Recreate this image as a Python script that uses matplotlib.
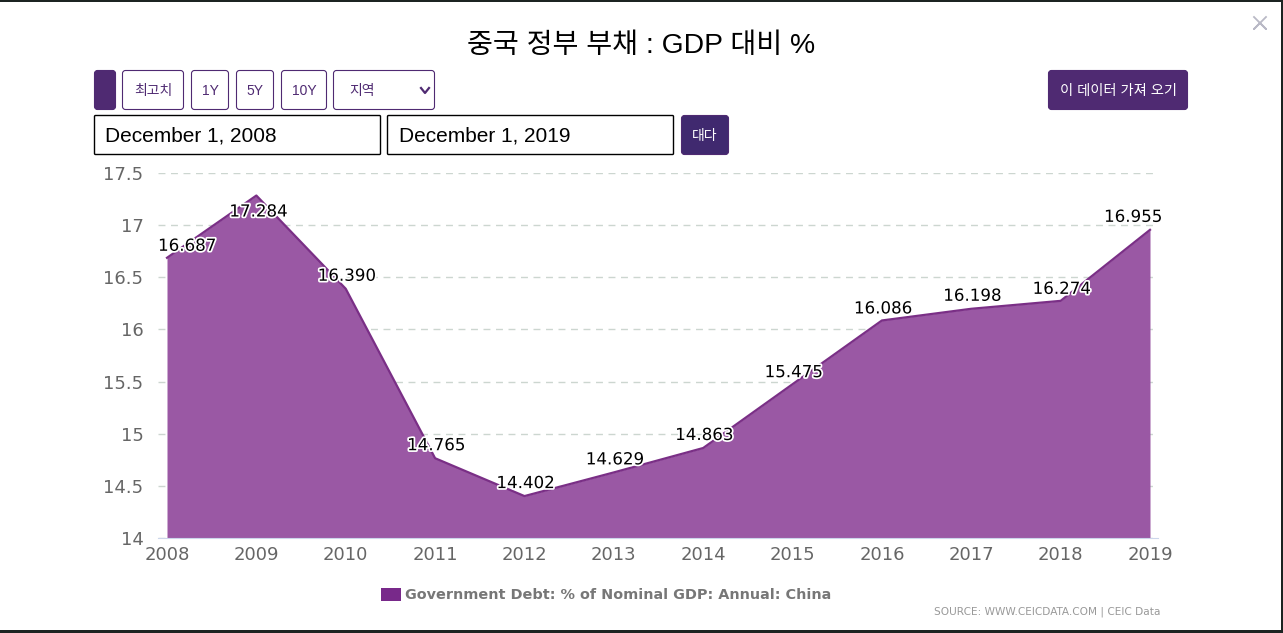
import matplotlib
matplotlib.use('Agg')
import matplotlib.pyplot as plt
import matplotlib.patheffects as pe
from matplotlib.patches import FancyBboxPatch, Rectangle

W, H = 1283, 633

years = [2008, 2009, 2010, 2011, 2012, 2013, 2014, 2015, 2016, 2017, 2018, 2019]
debt = [16.687, 17.284, 16.390, 14.765, 14.402, 14.629, 14.863, 15.475, 16.086, 16.198, 16.274, 16.955]
y_ticks = [14, 14.5, 15, 15.5, 16, 16.5, 17, 17.5]
y_tick_labels = ['14', '14.5', '15', '15.5', '16', '16.5', '17', '17.5']

title = '중국 정부 부채 : GDP 대비 %'
series_name = 'Government Debt: % of Nominal GDP: Annual: China'
source = 'SOURCE: WWW.CEICDATA.COM | CEIC Data'

KR = ['Liberation Sans', 'Noto Sans CJK KR']
PURPLE = '#4f2a72'
LINE = '#7a2f86'
FILL = '#9a58a4'

fig = plt.figure(figsize=(W / 100, H / 100), dpi=100, facecolor='#1c2422')

# page furniture drawn in pixel coordinates
ui = fig.add_axes([0, 0, 1, 1])
ui.set_xlim(0, W)
ui.set_ylim(H, 0)
ui.axis('off')
ui.add_patch(Rectangle((0, 2), 1281, 628, fc='white', ec='none'))


def button(x0, x1, y0, y1, label=None, fc='white', ec=PURPLE, color=PURPLE, size=10, lw=0.8, r=3):
    # keep the outline inside the box, like a css border
    x0, x1, y0, y1 = x0 + 0.5, x1 - 0.5, y0 + 0.5, y1 - 0.5
    ui.add_patch(FancyBboxPatch((x0 + r, y0 + r), x1 - x0 - 2 * r, y1 - y0 - 2 * r,
                                boxstyle=f'round,pad={r},rounding_size={r}',
                                fc=fc, ec=ec, lw=lw))
    if label:
        ui.text((x0 + x1) / 2, (y0 + y1) / 2 + 1, label, ha='center', va='center',
                fontsize=size, color=color, family=KR)


ui.text(641, 46, title, ha='center', va='center', fontsize=20.3, color='black', family=KR)
ui.plot([1254, 1266, 1260, 1254, 1266], [17, 29, 23, 29, 17], color='#b9b9c6', lw=1.3)

button(94, 116, 70, 110, fc=PURPLE)
button(122, 184, 70, 110, '최고치')
button(191, 229, 70, 110, '1Y')
button(236, 274, 70, 110, '5Y')
button(281, 327, 70, 110, '10Y')
button(333, 435, 70, 110)
ui.text(362, 91, '지역', ha='center', va='center', fontsize=10, color=PURPLE, family=KR)
ui.plot([421, 425, 429], [88, 93, 88], color=PURPLE, lw=1.6)
button(1048, 1188, 70, 110, '이 데이터 가져 오기', fc=PURPLE, color='white', size=10.3)

button(94, 381, 115, 155, ec='black', lw=1.0, r=1)
button(387, 674, 115, 155, ec='black', lw=1.0, r=1)
ui.text(105, 136, 'December 1, 2008', ha='left', va='center', fontsize=15, color='black', family=KR)
ui.text(399, 136, 'December 1, 2019', ha='left', va='center', fontsize=15, color='black', family=KR)
button(681, 729, 115, 155, '대다', fc='#40296f', color='white')

ui.text(1160, 612, source, ha='right', va='center', fontsize=7.55, color='#999999', family='DejaVu Sans')

# plot area, positioned to the pixel
left, right, top, bottom = 158, 1158, 173, 538
ax = fig.add_axes([left / W, 1 - bottom / H, (right - left) / W, (bottom - top) / H])
ax.patch.set_alpha(0)
year_px = (1150 - 167) / 11
ax.set_xlim(2008 - (167 - left) / year_px, 2019 + (right - 1150) / year_px)
ax.set_ylim(14, 17.5)

ax.fill_between(years, debt, 14, color=FILL, lw=0, zorder=2, label=series_name)
ax.plot(years, debt, color=LINE, lw=1.6, zorder=3)

ax.set_xticks(years)
ax.set_yticks(y_ticks)
ax.set_yticklabels(y_tick_labels)
ax.tick_params(axis='both', length=0, labelsize=13, labelcolor='#666666')
ax.tick_params(axis='x', pad=6)
ax.tick_params(axis='y', pad=10.5)
ax.grid(axis='y', color='#ccd6d0', lw=1, dashes=(5, 4), zorder=1)
for side in ['top', 'right', 'left']:
    ax.spines[side].set_visible(False)
ax.spines['bottom'].set_color('#ccd6eb')

# labels sit above the point; the ends get pushed inward, the peak goes below
label_dx = [20, 2, 1, 1, 1, 1, 1, 1, 1, 1, 1, -17]
label_dy = [12, -16, 13, 13, 13, 13, 13, 12, 12, 13, 12, 13]
for yr, val, dx, dy in zip(years, debt, label_dx, label_dy):
    ax.annotate(f'{val:.3f}', (yr, val), xytext=(dx * 0.72, dy * 0.72), textcoords='offset points',
                ha='center', va='center', fontsize=12, color='black', zorder=5,
                path_effects=[pe.withStroke(linewidth=2.5, foreground='white')])

leg = ax.legend(loc='center', bbox_to_anchor=(606 / W, 1 - 595 / H), bbox_transform=fig.transFigure,
                frameon=False, handlelength=1.38, handleheight=1.1, handletextpad=0.28,
                prop={'size': 10.4, 'weight': 'bold'}, labelcolor='#777777')
for h in leg.legend_handles:
    h.set_facecolor('#78298a')

fig.savefig('out.png', dpi=100, facecolor=fig.get_facecolor())
